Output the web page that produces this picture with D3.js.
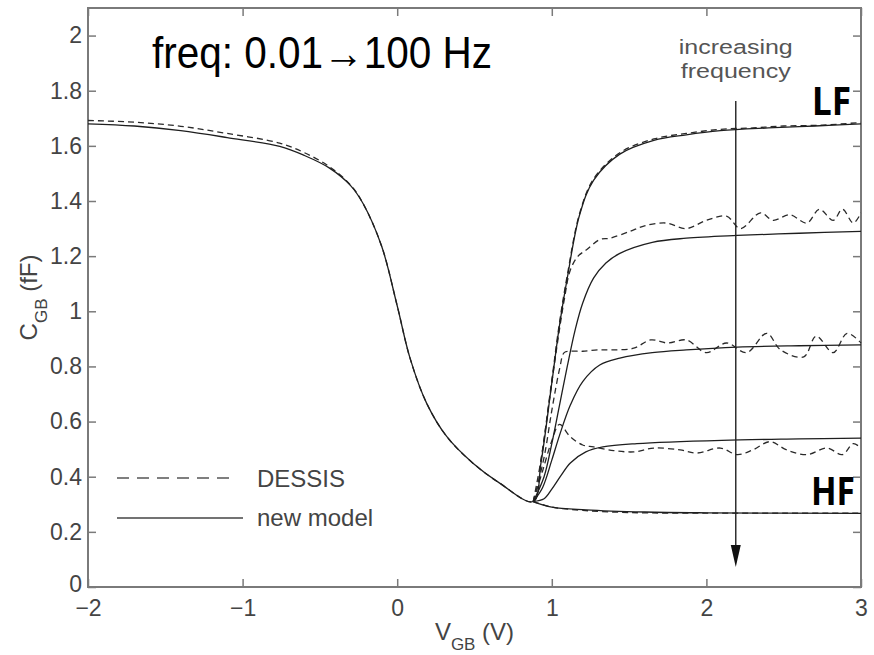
<!DOCTYPE html>
<html>
<head>
<meta charset="utf-8">
<style>
  body { margin: 0; background: #fff; }
  svg { display: block; font-family: 'Liberation Sans', Arial, Helvetica, sans-serif; }
  .tick text { fill: #444; font-size: 23px; }
  .tick line { stroke: #7a7a7a; stroke-width: 1.5; }
</style>
</head>
<body>
<svg width="874" height="655"></svg>
<script src="https://d3js.org/d3.v7.min.js"></script>
<script>
// axis ticks
const xTicks = [-2, -1, 0, 1, 2, 3];
const yTicks = [0, 0.2, 0.4, 0.6, 0.8, 1, 1.2, 1.4, 1.6, 1.8, 2];

// shared depletion branch (VGB, CGB) common to all frequencies
const depV = [-2, -1.7, -1.4, -1.1, -0.76, -0.6, -0.44, -0.3, -0.22, -0.1, 0, 0.083, 0.19, 0.32, 0.49, 0.665, 0.88];
const modelDepC = [1.68, 1.672, 1.655, 1.63, 1.598, 1.565, 1.52, 1.455, 1.39, 1.235, 1.02, 0.83, 0.667, 0.546, 0.449, 0.376, 0.31];
const dessisDepC = [1.692, 1.686, 1.671, 1.645, 1.61, 1.575, 1.525, 1.457, 1.39, 1.235, 1.02, 0.83, 0.667, 0.546, 0.449, 0.376, 0.31];

// new model, inversion branch, low to high frequency
const modelLF = [[0.93, 0.45], [1.0, 0.74], [1.05, 0.95], [1.1, 1.12], [1.18, 1.35], [1.27, 1.475], [1.44, 1.57], [1.66, 1.62], [1.87, 1.64], [2.09, 1.655], [2.4, 1.665], [2.7, 1.672], [3, 1.68]];
const model2 = [[0.95, 0.4], [1.0, 0.52], [1.05, 0.66], [1.1, 0.8], [1.15, 0.93], [1.2, 1.03], [1.27, 1.12], [1.35, 1.175], [1.44, 1.21], [1.65, 1.25], [1.87, 1.265], [2.2, 1.275], [2.6, 1.283], [3, 1.29]];
const model3 = [[0.94, 0.36], [1.0, 0.46], [1.05, 0.55], [1.12, 0.66], [1.2, 0.745], [1.31, 0.805], [1.44, 0.83], [1.65, 0.85], [1.87, 0.86], [2.2, 0.87], [2.6, 0.875], [3, 0.878]];
const model4 = [[0.95, 0.32], [1.0, 0.355], [1.06, 0.405], [1.12, 0.45], [1.22, 0.49], [1.33, 0.508], [1.55, 0.52], [2.1, 0.532], [2.6, 0.537], [3, 0.54]];
const modelHF = [[1.0, 0.29], [1.22, 0.28], [1.6, 0.272], [2.0, 0.269], [3, 0.267]];

// DESSIS simulation, inversion branch
const dessisLF = [[0.93, 0.46], [1.0, 0.75], [1.05, 0.96], [1.1, 1.13], [1.18, 1.355], [1.27, 1.48], [1.44, 1.575], [1.66, 1.625], [1.87, 1.645], [2.09, 1.66], [2.3, 1.665], [2.5, 1.672], [2.75, 1.675], [3, 1.685]];
const dessis2 = [[0.93, 0.46], [0.98, 0.66], [1.03, 0.86], [1.08, 1.04], [1.12, 1.15], [1.17, 1.2], [1.225, 1.223], [1.31, 1.26], [1.376, 1.265], [1.505, 1.29], [1.6, 1.31], [1.74, 1.32], [1.87, 1.3], [2.0, 1.33], [2.13, 1.345], [2.22, 1.3], [2.35, 1.357], [2.43, 1.33], [2.54, 1.35], [2.65, 1.32], [2.73, 1.37], [2.82, 1.33], [2.88, 1.37], [2.95, 1.32], [3.0, 1.357]];
const dessis3 = [[0.95, 0.47], [1.0, 0.64], [1.05, 0.79], [1.08, 0.85], [1.12, 0.855], [1.2, 0.855], [1.3, 0.86], [1.4, 0.86], [1.53, 0.866], [1.64, 0.896], [1.75, 0.885], [1.87, 0.896], [2.0, 0.85], [2.13, 0.885], [2.26, 0.85], [2.39, 0.92], [2.48, 0.86], [2.63, 0.835], [2.71, 0.91], [2.82, 0.85], [2.91, 0.92], [3.0, 0.885]];
const dessis4 = [[0.94, 0.42], [1.0, 0.53], [1.05, 0.59], [1.118, 0.546], [1.2, 0.515], [1.27, 0.508], [1.4, 0.495], [1.53, 0.49], [1.66, 0.504], [1.83, 0.497], [1.94, 0.486], [2.09, 0.504], [2.2, 0.48], [2.3, 0.497], [2.41, 0.527], [2.52, 0.497], [2.65, 0.48], [2.78, 0.504], [2.88, 0.48], [2.95, 0.52], [3.0, 0.504]];
const dessisHF = [[1.0, 0.29], [1.2, 0.278], [1.5, 0.27], [2.0, 0.268], [2.5, 0.268], [3, 0.268]];

const arrowV = 2.19;

const svg = d3.select("svg");
const mLeft = 88, mRight = 861, mTop = 8, mBottom = 587;

const x = d3.scaleLinear().domain([-2, 3]).range([mLeft, mRight]);
const y = d3.scaleLinear().domain([0, 2.1]).range([mBottom, mTop]);

const fmt = d => d3.format("~g")(d).replace("-", "\u2212");

// axes, ticks pointing inward
svg.append("g").attr("transform", `translate(0,${mBottom})`)
  .call(d3.axisBottom(x).tickValues(xTicks).tickSize(-8).tickPadding(13).tickFormat(fmt))
  .call(g => g.select(".domain").remove());
svg.append("g").attr("transform", `translate(0,${mTop})`)
  .call(d3.axisTop(x).tickValues(xTicks).tickSize(-8).tickFormat(""))
  .call(g => g.select(".domain").remove());
svg.append("g").attr("transform", `translate(${mLeft},0)`)
  .call(d3.axisLeft(y).tickValues(yTicks).tickSize(-8).tickPadding(6).tickFormat(fmt))
  .call(g => g.select(".domain").remove())
  .call(g => g.selectAll(".tick text").filter(d => d == 0).attr("dy", "0.2em"));
svg.append("g").attr("transform", `translate(${mRight},0)`)
  .call(d3.axisRight(y).tickValues(yTicks).tickSize(-8).tickFormat(""))
  .call(g => g.select(".domain").remove());

svg.append("rect")
  .attr("x", mLeft).attr("y", mTop)
  .attr("width", mRight - mLeft).attr("height", mBottom - mTop)
  .style("fill", "none").style("stroke", "#7a7a7a").style("stroke-width", 2);

// curves
const line = d3.line().x(d => x(d[0])).y(d => y(d[1])).curve(d3.curveCatmullRom.alpha(0.5));

const modelDep = depV.map((v, i) => [v, modelDepC[i]]);
const dessisDep = depV.map((v, i) => [v, dessisDepC[i]]);

let dessisCurves = [dessisLF, dessis2, dessis3, dessis4, dessisHF];
let modelCurves = [modelLF, model2, model3, model4, modelHF];

svg.append("g")
  .selectAll("path")
  .data(dessisCurves.map((c, i) => i == 0 ? dessisDep.concat(c) : [[0.88, 0.31]].concat(c)))
  .join("path")
  .attr("d", line)
  .style("fill", "none")
  .style("stroke", "#2a2a2a")
  .style("stroke-width", 1.3)
  .style("stroke-dasharray", "6,4");

svg.append("g")
  .selectAll("path")
  .data(modelCurves.map((c, i) => i == 0 ? modelDep.concat(c) : [[0.88, 0.31]].concat(c)))
  .join("path")
  .attr("d", line)
  .style("fill", "none")
  .style("stroke", "#1e1e1e")
  .style("stroke-width", 1.3);

// arrow: increasing frequency
svg.append("line")
  .attr("x1", x(arrowV)).attr("x2", x(arrowV))
  .attr("y1", 101).attr("y2", 560)
  .style("stroke", "#222").style("stroke-width", 1.4);
svg.append("path")
  .attr("d", `M${x(arrowV) - 5},545 L${x(arrowV) + 5},545 L${x(arrowV)},567 Z`)
  .style("fill", "#111");

svg.append("text").attr("x", x(arrowV)).attr("y", 54)
  .attr("text-anchor", "middle").attr("textLength", 114).attr("lengthAdjust", "spacingAndGlyphs")
  .style("font-size", "20px").style("fill", "#555")
  .text("increasing");
svg.append("text").attr("x", x(arrowV)).attr("y", 78)
  .attr("text-anchor", "middle").attr("textLength", 110).attr("lengthAdjust", "spacingAndGlyphs")
  .style("font-size", "20px").style("fill", "#555")
  .text("frequency");

// annotations
svg.append("text").attr("x", 152).attr("y", 68)
  .attr("textLength", 340).attr("lengthAdjust", "spacingAndGlyphs")
  .style("font-family", "'Liberation Sans Narrow', 'Liberation Sans', Arial, sans-serif")
  .style("font-size", "44px").style("fill", "#000")
  .text("freq: 0.01\u2192100 Hz");

svg.append("text").attr("x", 812).attr("y", 115)
  .attr("textLength", 39).attr("lengthAdjust", "spacingAndGlyphs")
  .style("font-family", "'Noto Sans', 'DejaVu Sans', sans-serif").style("font-weight", "bold")
  .style("font-size", "40px").style("fill", "#000")
  .text("LF");
svg.append("text").attr("x", 811).attr("y", 505)
  .attr("textLength", 44).attr("lengthAdjust", "spacingAndGlyphs")
  .style("font-family", "'Noto Sans', 'DejaVu Sans', sans-serif").style("font-weight", "bold")
  .style("font-size", "39px").style("fill", "#000")
  .text("HF");

// legend
svg.append("line").attr("x1", 117).attr("x2", 236).attr("y1", 478).attr("y2", 478)
  .style("stroke", "#555").style("stroke-width", 1.4).style("stroke-dasharray", "12,8");
svg.append("line").attr("x1", 117).attr("x2", 243).attr("y1", 518).attr("y2", 518)
  .style("stroke", "#444").style("stroke-width", 1.4);
svg.append("text").attr("x", 257).attr("y", 487)
  .style("font-size", "24px").style("fill", "#444").text("DESSIS");
svg.append("text").attr("x", 257).attr("y", 526)
  .style("font-size", "24px").style("fill", "#444").text("new model");

// axis titles
let xl = svg.append("text").attr("x", (mLeft + mRight) / 2).attr("y", 640)
  .attr("text-anchor", "middle").style("font-size", "24px").style("fill", "#444");
xl.append("tspan").text("V");
xl.append("tspan").attr("dy", 10).style("font-size", "17px").text("GB");
xl.append("tspan").attr("dy", -10).text(" (V)");

let yl = svg.append("text")
  .attr("transform", `translate(37,${(mTop + mBottom) / 2}) rotate(-90)`)
  .attr("text-anchor", "middle").style("font-size", "24px").style("fill", "#444");
yl.append("tspan").text("C");
yl.append("tspan").attr("dy", 10).style("font-size", "17px").text("GB");
yl.append("tspan").attr("dy", -10).text(" (fF)");
</script>
</body>
</html>
